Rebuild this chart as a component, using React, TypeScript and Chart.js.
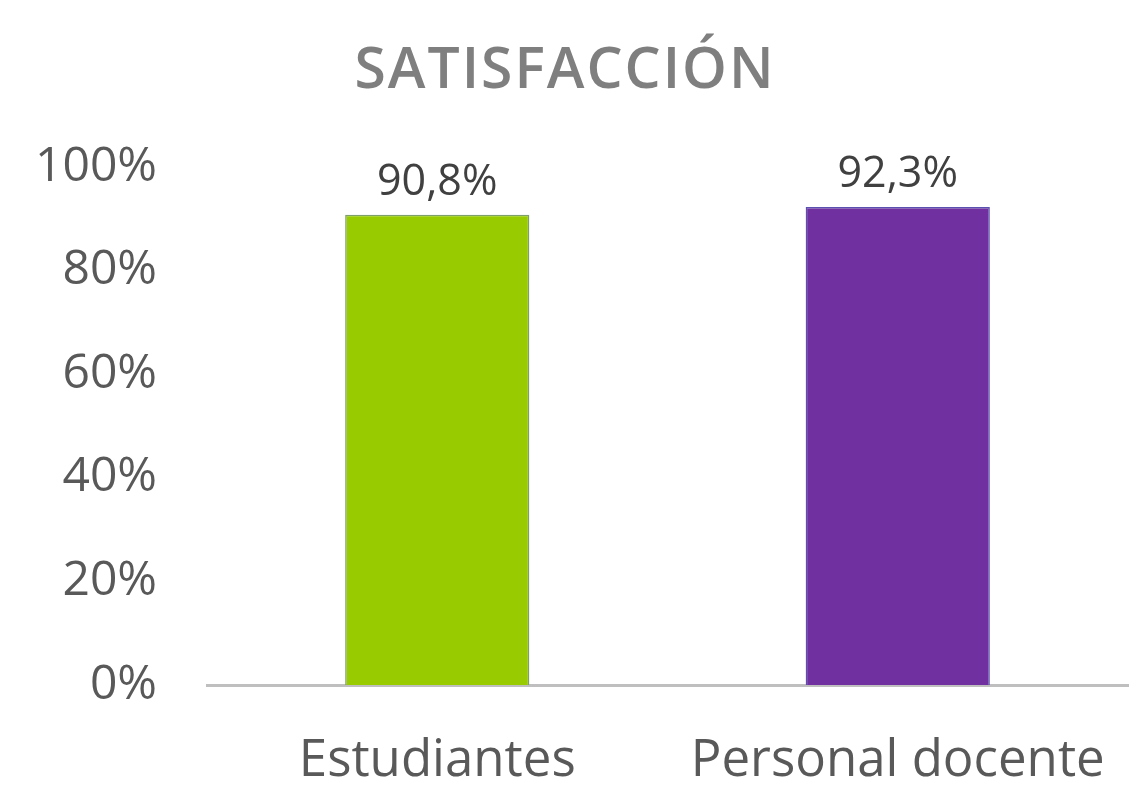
import React, { useEffect, useRef } from "react";
import { Chart, registerables } from "chart.js";

Chart.register(...registerables);

const categories = ["Estudiantes", "Personal docente"];
const values = [90.8, 92.3];
const barColors = ["#99cc00", "#7030a0"];
const valueLabels = ["90,8%", "92,3%"];
const titleText = "SATISFACCIÓN";

const dataLabelPlugin = {
  id: "dataLabels",
  afterDatasetsDraw(chart: any) {
    const ctx = chart.ctx;
    const meta = chart.getDatasetMeta(0);
    ctx.save();
    ctx.font = "43px 'Open Sans'";
    ctx.fillStyle = "#404040";
    ctx.textAlign = "center";
    ctx.textBaseline = "alphabetic";
    meta.data.forEach((bar: any, i: number) => {
      ctx.fillText(valueLabels[i], bar.x, bar.y - 20);
    });
    ctx.restore();
  },
};

const titlePlugin = {
  id: "customTitle",
  afterDraw(chart: any) {
    const ctx = chart.ctx;
    ctx.save();
    ctx.font = "600 57px 'Open Sans'";
    (ctx as any).letterSpacing = "2px";
    ctx.fillStyle = "#7f7f7f";
    ctx.textAlign = "center";
    ctx.textBaseline = "alphabetic";
    ctx.fillText(titleText, 565, 88);
    ctx.restore();
  },
};

export default function App() {
  const ref = useRef<HTMLCanvasElement>(null);
  useEffect(() => {
    if (!ref.current) return;
    const chart = new Chart(ref.current, {
      type: "bar",
      data: {
        labels: categories,
        datasets: [
          {
            data: values,
            backgroundColor: barColors,
            borderColor: ["#7f9f6a", "#5a50b0"],
            borderWidth: 1.5,
            barPercentage: 0.4,
            categoryPercentage: 1,
          },
        ],
      },
      options: {
        animation: false,
        responsive: false,
        maintainAspectRatio: false,
        layout: { padding: { left: 0, right: 14, top: 167, bottom: 0 } },
        plugins: {
          legend: { display: false },
          tooltip: { enabled: false },
          title: { display: false },
        },
        scales: {
          x: {
            grid: { display: false, drawTicks: false },
            border: { display: true, color: "#bfbfbf", width: 3 },
            ticks: {
              color: "#595959",
              font: { family: "'Open Sans'", size: 51 },
              padding: 46,
            },
            afterFit: (scale: any) => {
              scale.paddingLeft = 0;
              scale.paddingRight = 0;
              scale.height = 108;
            },
          },
          y: {
            min: 0,
            max: 100,
            grid: { display: false, drawTicks: false },
            border: { display: false },
            ticks: {
              stepSize: 20,
              color: "#595959",
              font: { family: "'Open Sans'", size: 48 },
              padding: 50,
              callback: (v: any) => v + "%",
            },
            afterFit: (scale: any) => {
              scale.paddingTop = 0;
              scale.paddingBottom = 0;
              scale.width = 207;
            },
          },
        },
      },
      plugins: [dataLabelPlugin, titlePlugin],
    });
    return () => chart.destroy();
  }, []);
  return (
    <div style={{ position: "fixed", left: 0, top: 0, width: 1142, height: 793, background: "#fff" }}>
      <canvas ref={ref} width={1142} height={793} />
    </div>
  );
}
